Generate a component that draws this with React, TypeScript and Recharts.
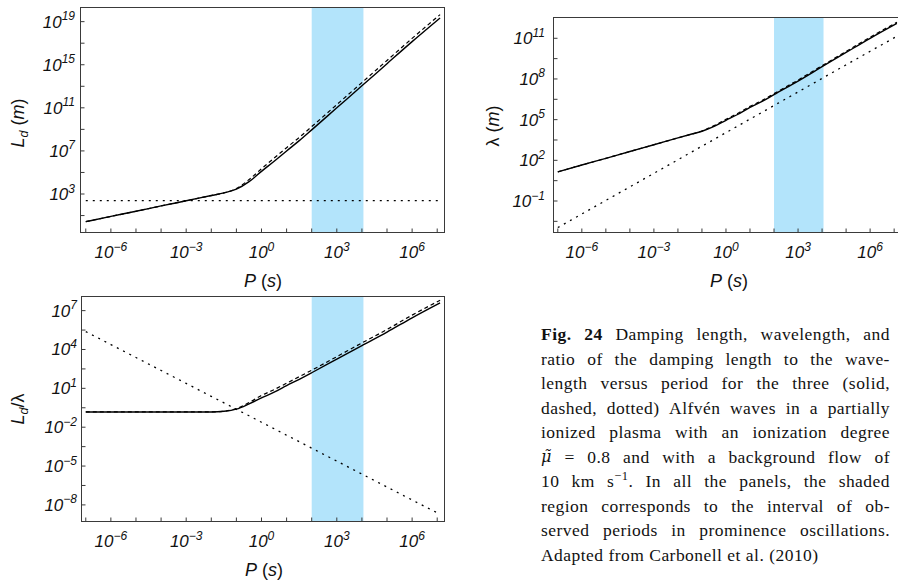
import React from 'react'
import { LineChart, Line, XAxis, YAxis, ReferenceArea } from 'recharts'

// period P (s), shared by the three panels
const periods = [1e-7, 1e-6, 1e-5, 1e-4, 1e-3, 1e-2, 0.032, 0.1, 0.32, 1, 3.2, 10, 32, 100, 1e3, 1e4, 1e5, 1e6, 1.3e7]

// damping length L_d (m)
const ldSolid = [2.7, 8.3, 25, 78, 235, 720, 1.26e3, 2.8e3, 1.4e4, 1.26e5, 1.1e6, 1e7, 9e7, 9e8, 1e11, 1.1e13, 1.26e15, 1.4e17, 2.2e19]
const ldDashed = [2.7, 8.3, 25, 78, 235, 720, 1.26e3, 3.2e3, 2.2e4, 2.2e5, 2.2e6, 2e7, 1.8e8, 1.8e9, 2e11, 2.2e13, 2.5e15, 2.8e17, 4.5e19]
const ldDotted = [240, 240, 240, 240, 240, 240, 240, 240, 240, 240, 240, 240, 240, 240, 240, 240, 240, 240, 240]

// wavelength lambda (m)
const lamSolid = [14, 45, 140, 450, 1.4e3, 4.5e3, 8e3, 1.4e4, 3.2e4, 9e4, 2.5e5, 8e5, 2.2e6, 7e6, 7e7, 8e8, 9e9, 1e11, 1.26e12]
const lamDashed = [14, 45, 140, 450, 1.4e3, 4.5e3, 8e3, 1.45e4, 3.6e4, 1.05e5, 3e5, 9.5e5, 2.6e6, 8.3e6, 8.3e7, 9.5e8, 1.07e10, 1.2e11, 1.5e12]
const lamDotted = [1.1e-3, 1.1e-2, 0.11, 1.1, 11, 110, 355, 1.1e3, 3.5e3, 1.1e4, 3.5e4, 1.1e5, 3.5e5, 1.1e6, 1.1e7, 1.1e8, 1.1e9, 1.1e10, 1.4e11]

// ratio L_d / lambda
const ratioSolid = [0.15, 0.15, 0.15, 0.15, 0.15, 0.15, 0.17, 0.25, 0.63, 1.8, 5, 16, 50, 160, 1.8e3, 2e4, 2.2e5, 2.8e6, 4e7]
const ratioDashed = [0.15, 0.15, 0.15, 0.15, 0.15, 0.15, 0.17, 0.27, 0.8, 2.8, 8, 25, 80, 250, 2.8e3, 3.2e4, 3.5e5, 4.5e6, 6.3e7]
const ratioDotted = [2.4e5, 2.4e4, 2.4e3, 240, 24, 2.4, 0.76, 0.24, 0.076, 0.024, 7.6e-3, 2.4e-3, 7.6e-4, 2.4e-4, 2.4e-5, 2.4e-6, 2.4e-7, 2.4e-8, 1.9e-9]

// observed prominence oscillation periods (shaded band)
const observedBand = [100, 1.15e4]

// ticks
const xTicks = [1e-7, 1e-6, 1e-5, 1e-4, 1e-3, 1e-2, 0.1, 1, 10, 100, 1e3, 1e4, 1e5, 1e6, 1e7]
const ldTicks = [10, 1e3, 1e5, 1e7, 1e9, 1e11, 1e13, 1e15, 1e17, 1e19]
const lamTicks = [3.16e-3, 0.1, 3.16, 100, 3.16e3, 1e5, 3.16e6, 1e8, 3.16e9, 1e11]
const ratioTicks = [1e-8, 3.16e-7, 1e-5, 3.16e-4, 1e-2, 0.316, 10, 316, 1e4, 3.16e5, 1e7]

const SANS = '"Liberation Sans", Arial, sans-serif'
const SERIF = '"Liberation Serif", "Times New Roman", serif'
const AXIS = '#3a3a3a'

const expOf = (v: number) => Math.round(Math.log10(v) * 2) / 2
const supText = (e: number) => (e < 0 ? '\u2212' + Math.abs(e) : String(e))

function PowText({ x, y, e, anchor }: { x: number; y: number; e: number; anchor: 'middle' | 'end' }) {
  return (
    <text x={x} y={y} textAnchor={anchor} fontFamily={SANS} fontStyle="italic" fontSize={17} fill="#111">
      10
      <tspan dy={-7.5} fontSize={12}>
        {supText(e)}
      </tspan>
    </text>
  )
}

function XTick(props: any) {
  const { x, y, payload } = props
  const e = expOf(payload.value)
  return (
    <g>
      <line x1={x} x2={x} y1={y} y2={y - 4.5} stroke={AXIS} strokeWidth={1} />
      {e % 3 === 0 && <PowText x={x} y={y + 25} e={e} anchor="middle" />}
    </g>
  )
}

function makeYTick(isMajor: (e: number) => boolean, gap: number) {
  return function YTick(props: any) {
    const { x, y, payload } = props
    const e = expOf(payload.value)
    return (
      <g>
        <line x1={x} x2={x + 4.5} y1={y} y2={y} stroke={AXIS} strokeWidth={1} />
        {Number.isInteger(e) && isMajor(e) && <PowText x={x - gap} y={y + 6} e={e} anchor="end" />}
      </g>
    )
  }
}

type PanelProps = {
  solid: number[]
  dashed: number[]
  dotted: number[]
  left: number
  top: number
  width: number
  height: number
  margin: { top: number; right: number; bottom: number; left: number }
  yWidth: number
  xHeight: number
  xDomain: [number, number]
  yDomain: [number, number]
  yTicks: number[]
  yTick: (p: any) => React.ReactElement
}

function Panel(p: PanelProps) {
  const data = periods.map((P, i) => ({ P, solid: p.solid[i], dashed: p.dashed[i], dotted: p.dotted[i] }))
  const fx = p.margin.left + p.yWidth
  const fy = p.margin.top
  const fw = p.width - p.margin.left - p.margin.right - p.yWidth
  const fh = p.height - p.margin.top - p.margin.bottom - p.xHeight
  return (
    <div style={{ position: 'absolute', left: p.left, top: p.top, width: p.width, height: p.height }}>
      <LineChart width={p.width} height={p.height} data={data} margin={p.margin}>
        <XAxis
          dataKey="P"
          type="number"
          scale="log"
          domain={p.xDomain}
          allowDataOverflow
          ticks={xTicks}
          interval={0}
          height={p.xHeight}
          tickSize={0}
          tickMargin={0}
          tickLine={false}
          axisLine={false}
          tick={<XTick />}
        />
        <YAxis
          type="number"
          scale="log"
          domain={p.yDomain}
          allowDataOverflow
          ticks={p.yTicks}
          interval={0}
          width={p.yWidth}
          tickSize={0}
          tickMargin={0}
          tickLine={false}
          axisLine={false}
          tick={<p.yTick />}
        />
        <ReferenceArea x1={observedBand[0]} x2={observedBand[1]} fill="#b3e4fb" fillOpacity={1} stroke="none" />
        <Line type="monotone" dataKey="dotted" stroke="#000" strokeWidth={1.3} strokeDasharray="2 5" dot={false} isAnimationActive={false} />
        <Line type="monotone" dataKey="dashed" stroke="#000" strokeWidth={1.2} strokeDasharray="4 3" dot={false} isAnimationActive={false} />
        <Line type="monotone" dataKey="solid" stroke="#000" strokeWidth={1.4} dot={false} isAnimationActive={false} />
      </LineChart>
      <div
        style={{
          position: 'absolute',
          left: fx,
          top: fy,
          width: fw,
          height: fh,
          border: `1px solid ${AXIS}`,
          boxSizing: 'border-box',
          pointerEvents: 'none',
        }}
      />
    </div>
  )
}

const captionLines = [
  'Fig. 24 Damping length, wavelength, and',
  'ratio of the damping length to the wave-',
  'length versus period for the three (solid,',
  'dashed, dotted) Alfvén waves in a partially',
  'ionized plasma with an ionization degree',
  'μ̃ = 0.8 and with a background flow of',
  '10 km s−1. In all the panels, the shaded',
  'region corresponds to the interval of ob-',
  'served periods in prominence oscillations.',
  'Adapted from Carbonell et al. (2010)',
]

function Word({ w, li, wi }: { w: string; li: number; wi: number }) {
  if (li === 0 && wi < 2) return <b>{w}</b>
  if (w === 'μ̃') return <i style={{ fontFamily: '"DejaVu Serif", serif', fontSize: 16 }}>{w}</i>
  if (w === 's−1.')
    return (
      <span>
        s<span style={{ fontSize: 12.5, position: 'relative', top: -7 }}>−1</span>.
      </span>
    )
  return <span>{w}</span>
}

function Caption() {
  return (
    <div
      style={{
        position: 'absolute',
        left: 541,
        top: 322,
        width: 349,
        fontFamily: SERIF,
        fontSize: 17.5,
        letterSpacing: 0.45,
        color: '#111',
      }}
    >
      {captionLines.map((line, li) => {
        const words = line.split(' ')
        const last = li === captionLines.length - 1
        return (
          <div
            key={li}
            style={{
              height: 24.5,
              lineHeight: '24.5px',
              display: 'flex',
              justifyContent: last ? 'flex-start' : 'space-between',
              gap: last ? 5 : 0,
              whiteSpace: 'nowrap',
            }}
          >
            {words.map((w, wi) => (
              <Word key={wi} w={w} li={li} wi={wi} />
            ))}
          </div>
        )
      })}
    </div>
  )
}

export default function App() {
  return (
    <div style={{ position: 'fixed', left: 0, top: 0, width: 898, height: 584, overflow: 'hidden', background: '#fff' }}>
      <Panel
        solid={ldSolid}
        dashed={ldDashed}
        dotted={ldDotted}
        left={0}
        top={0}
        width={460}
        height={300}
        margin={{ top: 7, right: 15, bottom: 0, left: 0 }}
        yWidth={80}
        xHeight={67}
        xDomain={[10 ** -7.23, 10 ** 7.31]}
        yDomain={[10 ** -0.62, 10 ** 20.36]}
        yTicks={ldTicks}
        yTick={makeYTick((e) => (e - 3) % 4 === 0, 5)}
      />
      <Panel
        solid={lamSolid}
        dashed={lamDashed}
        dotted={lamDotted}
        left={430}
        top={0}
        width={490}
        height={300}
        margin={{ top: 17, right: 10, bottom: 0, left: 0 }}
        yWidth={123}
        xHeight={67}
        xDomain={[10 ** -7.2, 10 ** 7.66]}
        yDomain={[10 ** -3.36, 10 ** 12.57]}
        yTicks={lamTicks}
        yTick={makeYTick((e) => (e + 1) % 3 === 0, 8)}
      />
      <Panel
        solid={ratioSolid}
        dashed={ratioDashed}
        dotted={ratioDotted}
        left={0}
        top={280}
        width={460}
        height={300}
        margin={{ top: 16, right: 15, bottom: 0, left: 0 }}
        yWidth={81}
        xHeight={58}
        xDomain={[10 ** -7.19, 10 ** 7.31]}
        yDomain={[10 ** -9.32, 10 ** 8.13]}
        yTicks={ratioTicks}
        yTick={makeYTick((e) => (e - 1) % 3 === 0, 4)}
      />
      <svg width={898} height={584} style={{ position: 'absolute', left: 0, top: 0, pointerEvents: 'none' }}>
        <g fontFamily={SANS} fontSize={18} fill="#111">
          <text x={263} y={287} textAnchor="middle">
            <tspan fontStyle="italic">P</tspan> (<tspan fontStyle="italic">s</tspan>)
          </text>
          <text x={729} y={287} textAnchor="middle">
            <tspan fontStyle="italic">P</tspan> (<tspan fontStyle="italic">s</tspan>)
          </text>
          <text x={264} y={576} textAnchor="middle">
            <tspan fontStyle="italic">P</tspan> (<tspan fontStyle="italic">s</tspan>)
          </text>
          <text x={24} y={123} textAnchor="middle" transform="rotate(-90 24 123)">
            <tspan fontStyle="italic">L</tspan>
            <tspan fontStyle="italic" fontSize={12.5} dy={4}>d</tspan>
            <tspan dy={-4}> (</tspan>
            <tspan fontStyle="italic">m</tspan>)
          </text>
          <text x={499} y={126} textAnchor="middle" transform="rotate(-90 499 126)">
            λ (<tspan fontStyle="italic">m</tspan>)
          </text>
          <text x={24} y={409} textAnchor="middle" transform="rotate(-90 24 409)">
            <tspan fontStyle="italic">L</tspan>
            <tspan fontStyle="italic" fontSize={12.5} dy={4}>d</tspan>
            <tspan dy={-4}>/λ</tspan>
          </text>
        </g>
      </svg>
      <Caption />
    </div>
  )
}
